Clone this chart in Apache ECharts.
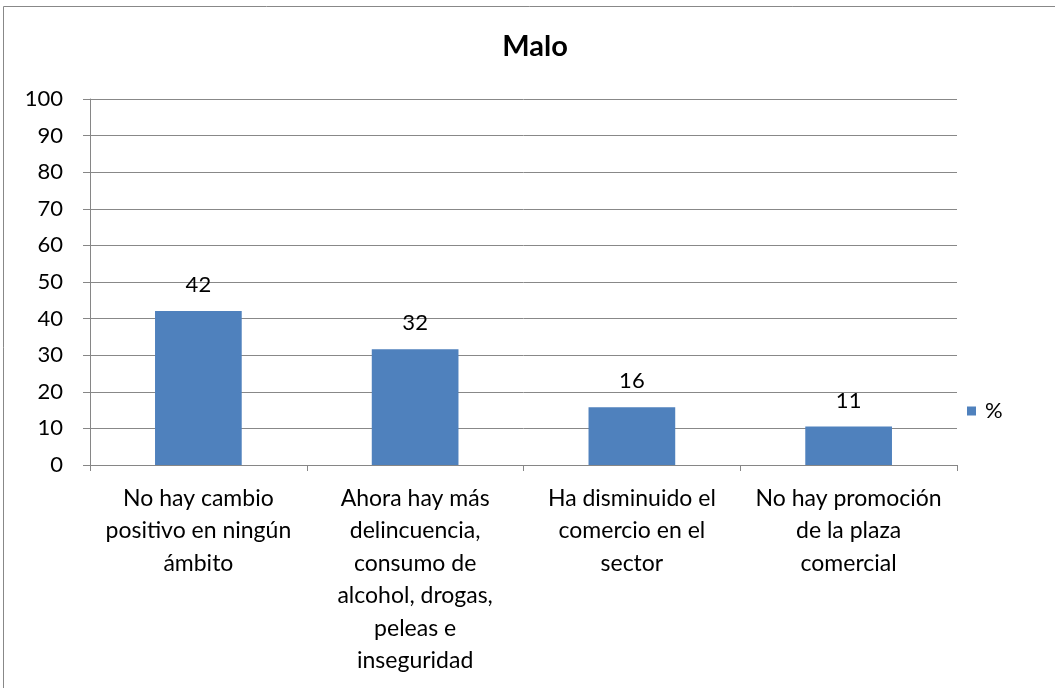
<!DOCTYPE html>
<html><head><meta charset="utf-8">
<script src="https://cdn.jsdelivr.net/npm/echarts@6/dist/echarts.min.js"></script>
<style>html,body{margin:0;padding:0;background:#fff}#c{width:1055px;height:688px}</style>
</head><body><div id="c"></div>
<script>
const titleText = "Malo";
const categories = [
  "No hay cambio\npositivo en ningún\námbito",
  "Ahora hay más\ndelincuencia,\nconsumo de\nalcohol, drogas,\npeleas e\ninseguridad",
  "Ha disminuido el\ncomercio en el\nsector",
  "No hay promoción\nde la plaza\ncomercial"
];
const seriesName = "%";
const values = [42.1, 31.6, 15.8, 10.5];

const font = "Lato, 'Open Sans', sans-serif";
const chart = echarts.init(document.getElementById('c'));
chart.setOption({
  animation: false,
  title: { text: titleText, left: 530, top: 27, textAlign: 'center',
    textStyle: { fontFamily: font, fontSize: 29, fontWeight: 'bold', color: '#000' } },
  graphic: [{ type: 'rect', shape: { x: 3.5, y: 6.5, width: 1100, height: 800 },
    style: { fill: 'none', stroke: '#888', lineWidth: 1 }, silent: true }],
  legend: { data: [seriesName], left: 962, top: 395, itemWidth: 9, itemHeight: 9, itemGap: 4,
    icon: 'rect', textStyle: { fontFamily: font, fontSize: 22, color: '#000', padding: [0, 0, 0, 4] } },
  grid: { left: 90, right: 98, top: 99, bottom: 223, containLabel: false },
  xAxis: { type: 'category', data: categories,
    axisLine: { lineStyle: { color: '#868686' } },
    axisTick: { show: true, length: 6, lineStyle: { color: '#868686' } },
    axisLabel: { interval: 0, fontFamily: font, fontSize: 23, color: '#000', lineHeight: 32.5, margin: 17 } },
  yAxis: { type: 'value', min: 0, max: 100, interval: 10,
    axisLine: { show: true, lineStyle: { color: '#868686' } },
    axisTick: { show: true, length: 7, lineStyle: { color: '#868686' } },
    splitLine: { lineStyle: { color: '#888' } },
    axisLabel: { fontFamily: font, fontSize: 22, color: '#000', margin: 27 } },
  series: [{ name: seriesName, type: 'bar', data: values, barCategoryGap: '60%',
    itemStyle: { color: '#4F81BD' },
    label: { show: true, position: 'top', distance: 15, fontFamily: font, fontSize: 22, color: '#000',
      formatter: p => Math.round(p.value) } }]
});
</script></body></html>
